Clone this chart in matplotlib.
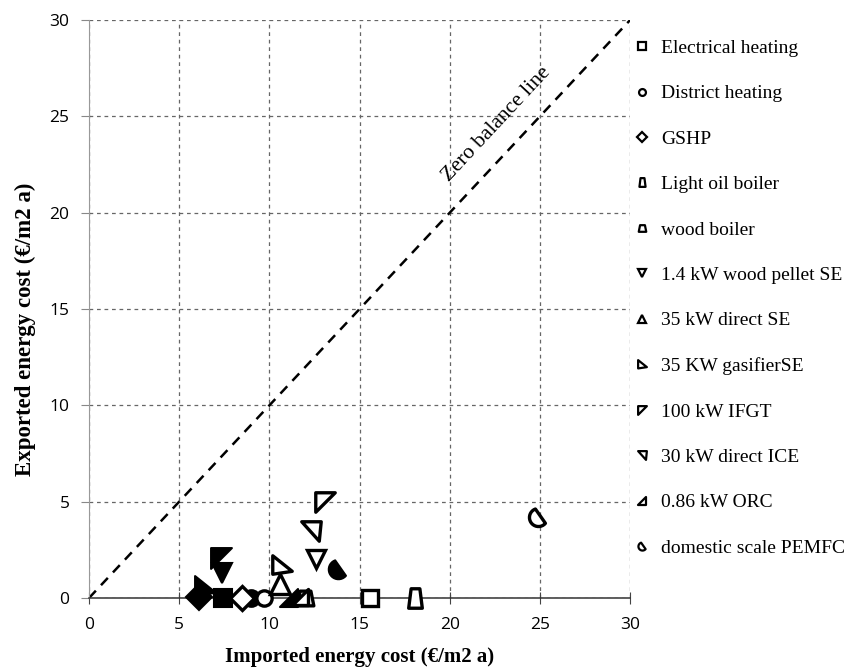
import numpy as np
import matplotlib
matplotlib.use("Agg")
import matplotlib.pyplot as plt
from matplotlib.path import Path

# data
labels = ["Electrical heating", "District heating", "GSHP", "Light oil boiler",
          "wood boiler", "1.4 kW wood pellet SE", "35 kW direct SE",
          "35 KW gasifierSE", "100 kW IFGT", "30 kW direct ICE",
          "0.86 kW ORC", "domestic scale PEMFC"]
open_x = [15.6, 9.7, 8.5, 18.1, 11.95, 12.6, 10.6, 10.7, 13.1, 12.3, 11.7, 24.9]
open_y = [0.0, 0.0, 0.0, 0.0, 0.0, 2.0, 0.7, 1.7, 5.0, 3.5, 0.05, 4.2]
filled_x = [7.45, 9.0, 6.1, np.nan, np.nan, 7.4, np.nan, 6.45, 7.3, np.nan, 11.1, 13.8]
filled_y = [0.0, 0.0, 0.05, np.nan, np.nan, 1.3, np.nan, 0.6, 2.1, np.nan, 0.0, 1.5]
ticks = [0, 5, 10, 15, 20, 25, 30]


def poly(pts):
    return Path(pts + [pts[0]], [Path.MOVETO] + [Path.LINETO] * (len(pts) - 1) + [Path.CLOSEPOLY])


ang = np.linspace(np.radians(110), np.radians(320), 20)
half_disc = poly(list(zip(np.cos(ang), np.sin(ang))))

markers = ['s', 'o', 'D',
           poly([(-0.45, 1), (0.45, 1), (0.7, -1), (-0.7, -1)]),
           poly([(-0.55, 0.75), (0.55, 0.75), (0.85, -0.75), (-0.85, -0.75)]),
           'v', '^',
           poly([(-1, 1), (-1, -0.9), (1, -0.6)]),
           poly([(-1, 1), (1, 1), (-1, -1)]),
           poly([(-1, 1), (1, 1), (0.8, -1)]),
           poly([(1, 1), (1, -1), (-1, -1)]),
           half_disc]
sizes = [12, 11, 12, 14, 12, 13, 14, 14, 14, 14, 12, 13]

serif = 'Liberation Serif'

fig = plt.figure(figsize=(8.52, 6.70), dpi=100)
ax = fig.add_axes([0.1045, 0.1075, 0.635, 0.8625])

ax.plot([0, 30], [0, 30], ls=(0, (4, 3)), color='black', lw=1.8, zorder=2)
ax.text(22.6, 24.6, "Zero balance line", rotation=47, rotation_mode='anchor',
        ha='center', va='center', family=serif, fontsize=15.5)

for i, lab in enumerate(labels):
    ax.plot(filled_x[i], filled_y[i], ls='none', marker=markers[i], ms=sizes[i] + 1,
            mfc='black', mec='black', mew=1.5, zorder=4, clip_on=False)
    ax.plot(open_x[i], open_y[i], ls='none', marker=markers[i], ms=sizes[i],
            mfc='white', mec='black', mew=2.4, label=lab, zorder=5, clip_on=False)

ax.set_xlim(0, 30)
ax.set_ylim(0, 30)
ax.set_xticks(ticks)
ax.set_yticks(ticks)
ax.grid(True, ls=(0, (3, 3)), color='#666666', lw=0.9)
for s in ['top', 'right']:
    ax.spines[s].set_visible(False)
ax.spines['left'].set_color('#999999')
ax.spines['bottom'].set_color('#333333')
ax.spines['bottom'].set_linewidth(1.1)
ax.tick_params(axis='x', direction='inout', length=8, pad=10, color='#444444', labelsize=12.5)
ax.tick_params(axis='y', direction='out', length=6, pad=8, color='#888888', labelsize=12.5)
for t in ax.get_xticklabels() + ax.get_yticklabels():
    t.set_family('Open Sans')

ax.set_xlabel("Imported energy cost (\u20ac/m2 a)", family=serif, fontweight='bold', fontsize=15)
ax.set_ylabel("Exported energy cost (\u20ac/m2 a)", family=serif, fontweight='bold', fontsize=16.5)
ax.xaxis.set_label_coords(0.5, -0.085)
ax.yaxis.set_label_coords(-0.098, 0.465)

leg = ax.legend(loc='upper left', bbox_to_anchor=(0.975, 0.997), frameon=False,
                markerscale=0.45, labelspacing=1.43, handletextpad=0.6, handlelength=0.8,
                prop={'family': serif, 'size': 14})
for h in leg.legend_handles:
    h.set_markeredgewidth(1.6)

fig.savefig("out.png", dpi=100)
